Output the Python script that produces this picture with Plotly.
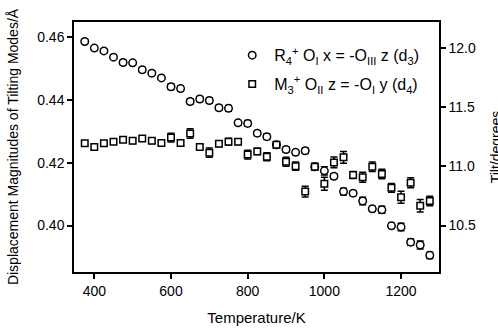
import plotly.graph_objects as go

temperature = [375, 400, 425, 450, 475, 500, 525, 550, 575, 600, 625, 650, 675, 700,
               725, 750, 775, 800, 825, 850, 875, 900, 925, 950, 975, 1000, 1025, 1050,
               1075, 1100, 1125, 1150, 1175, 1200, 1225, 1250, 1275]

r4_d3 = [0.4586, 0.4565, 0.4556, 0.4536, 0.4519, 0.4518, 0.4496, 0.4485, 0.4470, 0.4442,
         0.4436, 0.4395, 0.4403, 0.4398, 0.4375, 0.4373, 0.4327, 0.4325, 0.4294, 0.4283,
         0.4257, 0.4242, 0.4233, 0.4238, 0.4187, 0.4174, 0.4157, 0.4108, 0.4103, 0.4078,
         0.4053, 0.4050, 0.3999, 0.3995, 0.3947, 0.3938, 0.3905]
r4_err = [0.0007, 0.0007, 0.0007, 0.0007, 0.0007, 0.0007, 0.0007, 0.0007, 0.0007, 0.0009,
          0.0008, 0.0009, 0.0008, 0.0009, 0.0008, 0.0009, 0.0007, 0.0009, 0.0008, 0.0009,
          0.0008, 0.0009, 0.0007, 0.0009, 0.0008, 0.0013, 0.0008, 0.0011, 0.0008, 0.0012,
          0.0008, 0.0011, 0.0008, 0.0012, 0.0010, 0.0013, 0.0010]

m3_d4 = [0.4262, 0.4250, 0.4262, 0.4267, 0.4273, 0.4270, 0.4277, 0.4270, 0.4263, 0.4280,
         0.4263, 0.4293, 0.4250, 0.4232, 0.4260, 0.4267, 0.4267, 0.4226, 0.4236, 0.4219,
         0.4257, 0.4203, 0.4189, 0.4108, 0.4187, 0.4133, 0.4201, 0.4217, 0.4161, 0.4154,
         0.4187, 0.4164, 0.4120, 0.4090, 0.4136, 0.4063, 0.4078]
m3_err = [0.0007, 0.0009, 0.0007, 0.0008, 0.0007, 0.0009, 0.0007, 0.0009, 0.0008, 0.0014,
          0.0008, 0.0015, 0.0009, 0.0015, 0.0009, 0.0011, 0.0009, 0.0014, 0.0010, 0.0013,
          0.0009, 0.0014, 0.0013, 0.0017, 0.0011, 0.0021, 0.0017, 0.0019, 0.0011, 0.0016,
          0.0015, 0.0015, 0.0014, 0.0019, 0.0016, 0.0020, 0.0015]

x_ticks = [400, 600, 800, 1000, 1200]
y_ticks = [0.40, 0.42, 0.44, 0.46]
y2_ticks = [10.5, 11.0, 11.5, 12.0]

label_r4 = "R<sub>4</sub><sup>+</sup> O<sub>I</sub> x = -O<sub>III</sub> z (d<sub>3</sub>)"
label_m3 = "M<sub>3</sub><sup>+</sup> O<sub>II</sub> z = -O<sub>I</sub> y (d<sub>4</sub>)"
right_title = "Tilt/degrees"

FONT = "Arial, Liberation Sans, sans-serif"

fig = go.Figure()
fig.add_trace(go.Scatter(
    x=temperature, y=r4_d3, mode="markers", name=label_r4, legendgroup="r4",
    marker=dict(symbol="circle", size=7.5, color="white", line=dict(color="black", width=1.5)),
    error_y=dict(type="data", array=r4_err, color="black", thickness=1.5, width=3.5),
))
fig.add_trace(go.Scatter(
    x=temperature, y=m3_d4, mode="markers", name=label_m3, legendgroup="m3",
    marker=dict(symbol="square", size=6.5, color="white", line=dict(color="black", width=1.5)),
    error_y=dict(type="data", array=m3_err, color="black", thickness=1.5, width=3.5),
))
fig.add_trace(go.Scatter(x=[], y=[], yaxis="y2", showlegend=False, hoverinfo="skip"))

axis_common = dict(showline=True, linecolor="black", linewidth=1.5, ticks="outside",
                   ticklen=5, tickwidth=1.5, tickcolor="black", showgrid=False,
                   zeroline=False, tickfont=dict(family=FONT, size=14, color="black"))

fig.update_layout(
    width=498, height=336,
    margin=dict(l=72, r=59, t=22, b=51),
    paper_bgcolor="white", plot_bgcolor="white",
    font=dict(family=FONT, size=14, color="black"),
    xaxis=dict(range=[347, 1299], tickvals=x_ticks, mirror=True,
               title=dict(text="Temperature/K", font=dict(family=FONT, size=15)),
               **axis_common),
    yaxis=dict(range=[0.3852, 0.4648], tickvals=y_ticks, tickformat=".2f", mirror=True,
               title=dict(text="Displacement Magnitudes of Tilting Modes/Å",
                          font=dict(family=FONT, size=14)),
               **axis_common),
    yaxis2=dict(range=[10.107, 12.22], tickvals=y2_ticks, tickformat=".1f",
                overlaying="y", side="right", automargin=False,
                **axis_common),
    legend=dict(x=0.428, y=0.935, xanchor="left", yanchor="top", bgcolor="rgba(0,0,0,0)",
                font=dict(family=FONT, size=16), itemwidth=34, tracegroupgap=5),
    showlegend=True,
    annotations=[dict(text=right_title, xref="paper", yref="paper", x=1.155, y=0.501,
                      xanchor="center", yanchor="middle", textangle=-90, showarrow=False,
                      font=dict(family=FONT, size=14, color="black"))],
)

fig.write_html("out.html")
